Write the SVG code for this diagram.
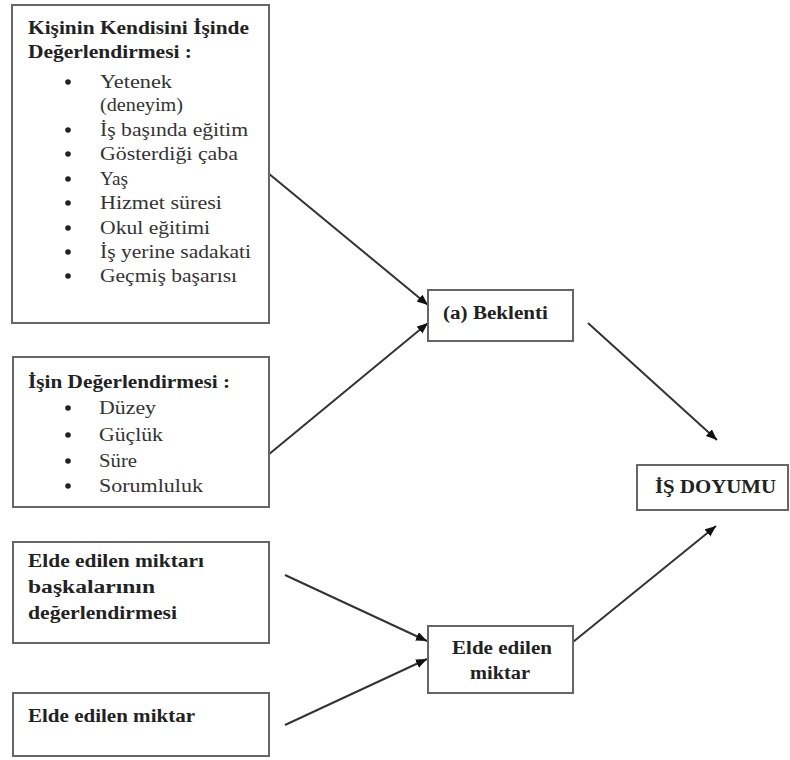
<svg xmlns="http://www.w3.org/2000/svg" width="790" height="760" viewBox="0 0 790 760">
<defs>
<style>
.box{fill:#fff;stroke:#666;stroke-width:2}
.b{font-family:"Liberation Serif","Times New Roman",serif;font-weight:bold;font-size:18px;fill:#222}
.r{font-family:"Liberation Serif","Times New Roman",serif;font-size:18px;fill:#333}
.bul{fill:#222}
.edge{stroke:#333;stroke-width:2;fill:none;marker-end:url(#arr)}
</style>
<marker id="arr" markerUnits="userSpaceOnUse" markerWidth="12" markerHeight="10" refX="11" refY="4.5" orient="auto">
<path d="M0,0 L11,4.5 L0,9 z" fill="#111"/>
</marker>
</defs>
<rect width="790" height="760" fill="#fff"/>
<g id="connectors">
<line class="edge" x1="268" y1="173" x2="428" y2="305"/>
<line class="edge" x1="268" y1="455" x2="428" y2="323"/>
<line class="edge" x1="588" y1="323" x2="717" y2="440"/>
<line class="edge" x1="573" y1="642" x2="716" y2="526"/>
<line class="edge" x1="285" y1="575" x2="427" y2="641"/>
<line class="edge" x1="285" y1="725" x2="427" y2="659"/>
</g>
<g id="node-kisi">
<rect class="box" x="12" y="5" width="257" height="318"/>
<text class="b" x="28" y="34" textLength="221" lengthAdjust="spacingAndGlyphs">Kişinin Kendisini İşinde</text>
<text class="b" x="28" y="58" textLength="164" lengthAdjust="spacingAndGlyphs">Değerlendirmesi :</text>
<circle class="bul" cx="68" cy="82" r="2.8"/>
<text class="r" x="100" y="88" textLength="72" lengthAdjust="spacingAndGlyphs">Yetenek</text>
<text class="r" x="100" y="111" textLength="83" lengthAdjust="spacingAndGlyphs">(deneyim)</text>
<circle class="bul" cx="68" cy="130" r="2.8"/>
<text class="r" x="100" y="136" textLength="148" lengthAdjust="spacingAndGlyphs">İş başında eğitim</text>
<circle class="bul" cx="68" cy="154" r="2.8"/>
<text class="r" x="100" y="160" textLength="138" lengthAdjust="spacingAndGlyphs">Gösterdiği çaba</text>
<circle class="bul" cx="68" cy="179" r="2.8"/>
<text class="r" x="100" y="185" textLength="28" lengthAdjust="spacingAndGlyphs">Yaş</text>
<circle class="bul" cx="68" cy="203" r="2.8"/>
<text class="r" x="100" y="209" textLength="122" lengthAdjust="spacingAndGlyphs">Hizmet süresi</text>
<circle class="bul" cx="68" cy="228" r="2.8"/>
<text class="r" x="100" y="234" textLength="110" lengthAdjust="spacingAndGlyphs">Okul eğitimi</text>
<circle class="bul" cx="68" cy="252" r="2.8"/>
<text class="r" x="100" y="258" textLength="151" lengthAdjust="spacingAndGlyphs">İş yerine sadakati</text>
<circle class="bul" cx="68" cy="276" r="2.8"/>
<text class="r" x="100" y="282" textLength="137" lengthAdjust="spacingAndGlyphs">Geçmiş başarısı</text>
</g>
<g id="node-is">
<rect class="box" x="13" y="357" width="256" height="150"/>
<text class="b" x="28" y="388" textLength="202" lengthAdjust="spacingAndGlyphs">İşin Değerlendirmesi :</text>
<circle class="bul" cx="68" cy="408" r="2.8"/>
<text class="r" x="99" y="414" textLength="57" lengthAdjust="spacingAndGlyphs">Düzey</text>
<circle class="bul" cx="68" cy="435" r="2.8"/>
<text class="r" x="99" y="441" textLength="64" lengthAdjust="spacingAndGlyphs">Güçlük</text>
<circle class="bul" cx="68" cy="461" r="2.8"/>
<text class="r" x="99" y="467" textLength="38" lengthAdjust="spacingAndGlyphs">Süre</text>
<circle class="bul" cx="68" cy="486" r="2.8"/>
<text class="r" x="99" y="492" textLength="104" lengthAdjust="spacingAndGlyphs">Sorumluluk</text>
</g>
<g id="node-baskalari">
<rect class="box" x="13" y="542" width="256" height="101"/>
<text class="b" x="28" y="567" textLength="176" lengthAdjust="spacingAndGlyphs">Elde edilen miktarı</text>
<text class="b" x="28" y="593" textLength="127" lengthAdjust="spacingAndGlyphs">başkalarının</text>
<text class="b" x="28" y="619" textLength="149" lengthAdjust="spacingAndGlyphs">değerlendirmesi</text>
</g>
<g id="node-miktar">
<rect class="box" x="13" y="693" width="256" height="63"/>
<text class="b" x="28" y="722" textLength="167" lengthAdjust="spacingAndGlyphs">Elde edilen miktar</text>
</g>
<g id="node-beklenti">
<rect class="box" x="428" y="290" width="145" height="51"/>
<text class="b" x="443" y="319" textLength="105" lengthAdjust="spacingAndGlyphs">(a) Beklenti</text>
</g>
<g id="node-elde">
<rect class="box" x="428" y="626" width="145" height="67"/>
<text class="b" x="452" y="654" textLength="100" lengthAdjust="spacingAndGlyphs">Elde edilen</text>
<text class="b" x="470" y="679" textLength="60" lengthAdjust="spacingAndGlyphs">miktar</text>
</g>
<g id="node-doyum">
<rect class="box" x="637" y="465" width="151" height="45"/>
<text class="b" x="655" y="493" textLength="121" lengthAdjust="spacingAndGlyphs">İŞ DOYUMU</text>
</g>
</svg>
